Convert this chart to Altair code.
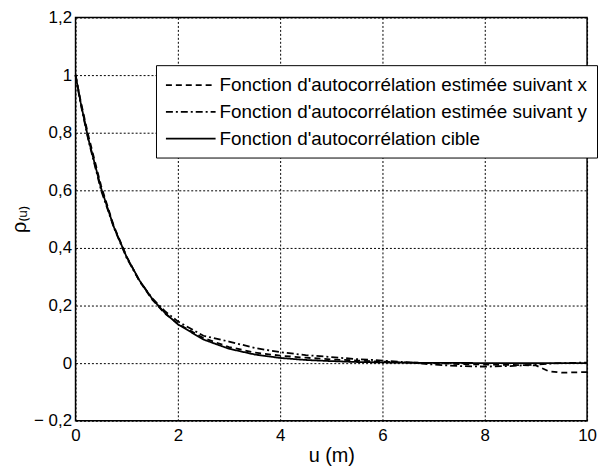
import altair as alt
import pandas as pd

u = [0, 0.1, 0.25, 0.5, 0.75, 1, 1.25, 1.5, 1.75, 2, 2.5, 3, 3.5, 4, 4.5, 5,
     5.5, 6, 6.5, 7, 7.5, 8, 8.5, 9, 9.25, 9.5, 10]
rho_x = [1, 0.91, 0.79, 0.615, 0.475, 0.37, 0.285, 0.22, 0.172, 0.137, 0.087,
         0.056, 0.037, 0.026, 0.019, 0.013, 0.009, 0.005, 0.002, 0.0, -0.003,
         -0.005, -0.006, -0.008, -0.028, -0.033, -0.031]
rho_y = [1, 0.9, 0.775, 0.6, 0.47, 0.365, 0.285, 0.225, 0.18, 0.145, 0.095,
         0.075, 0.053, 0.038, 0.028, 0.021, 0.014, 0.009, 0.003, -0.005,
         -0.01, -0.012, -0.01, -0.005, -0.002, 0.0, 0.002]
rho_c = [1, 0.905, 0.779, 0.607, 0.472, 0.368, 0.287, 0.223, 0.174, 0.135,
         0.082, 0.05, 0.03, 0.018, 0.011, 0.007, 0.004, 0.0025, 0.0015, 0.001,
         0.0006, 0.0003, 0.0002, 0.0001, 0.0001, 0.0001, 0.0]

names = ["Fonction d'autocorrélation estimée suivant x",
         "Fonction d'autocorrélation estimée suivant y",
         "Fonction d'autocorrélation cible"]
y_ticks = [-0.2, 0, 0.2, 0.4, 0.6, 0.8, 1, 1.2]
x_ticks = [0, 2, 4, 6, 8, 10]

rows = []
for name, vals in zip(names, [rho_x, rho_y, rho_c]):
    for i, (a, b) in enumerate(zip(u, vals)):
        rows.append({"u": a, "rho": b, "serie": name, "o": i})
df = pd.DataFrame(rows)

FONT = "Liberation Sans"
label_expr = ("datum.value < 0 ? '\u2212 ' + replace(format(-datum.value, '~g'), '.', ',') "
              ": replace(format(datum.value, '~g'), '.', ',')")

chart = alt.Chart(df).mark_line(color="black", strokeWidth=1.8).encode(
    x=alt.X("u:Q", scale=alt.Scale(domain=[0, 10], nice=False),
            axis=alt.Axis(values=x_ticks, title="u (m)", labelExpr=label_expr,
                          titleFontSize=20, titlePadding=2, labelPadding=7)),
    y=alt.Y("rho:Q", scale=alt.Scale(domain=[-0.2, 1.2], nice=False),
            axis=alt.Axis(values=y_ticks, title="ρ₍ᵤ₎", labelExpr=label_expr,
                          titleFontSize=20, titlePadding=4, labelPadding=4)),
    strokeDash=alt.StrokeDash("serie:N",
        scale=alt.Scale(domain=names, range=[[6, 4], [7, 3, 2, 3], [1, 0]]),
        legend=alt.Legend(title=None, orient="none", legendX=81, legendY=48,
                          symbolType="M-1,0L4,0", symbolSize=400,
                          symbolStrokeWidth=1.8, symbolStrokeColor="black",
                          labelFont=FONT, labelFontSize=19, labelColor="black",
                          strokeColor="black", fillColor="white", padding=9,
                          rowPadding=6, labelOffset=33, labelLimit=600)),
    order="o:Q",
).properties(
    width=515, height=406,
    autosize=alt.AutoSizeParams(type="none"),
    padding={"left": 68, "top": 8, "right": 11, "bottom": 44},
    background="white",
).configure_view(
    stroke="black", strokeWidth=1.5
).configure_axis(
    domain=False, ticks=False, grid=True, gridColor="black", gridDash=[2, 2],
    gridWidth=1, gridOpacity=1, labelFont=FONT, labelFontSize=17,
    labelColor="black", titleFont=FONT, titleColor="black",
    titleFontWeight="normal", labelFlush=False
)

chart.save("out.html", embed_options={"renderer": "svg", "actions": False})
